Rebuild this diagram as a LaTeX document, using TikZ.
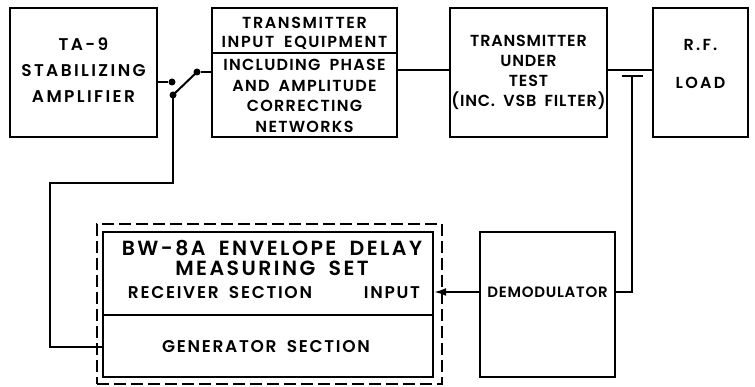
\documentclass[tikz,border=0pt]{standalone}
\usepackage{fontspec}
\setmainfont{Poppins}[BoldFont={* SemiBold}, WordSpace=1.8]
\usetikzlibrary{arrows.meta,positioning,calc}
\newcommand{\lettering}[3]{\fontsize{#1}{#2}\selectfont\bfseries\addfontfeatures{LetterSpace=#3}}

\begin{document}
\begin{tikzpicture}[x=1pt,y=-1pt,
  blk/.style={draw, line width=2.2pt, inner sep=0pt},
  dashbox/.style={draw, line width=2.2pt, dash pattern=on 12pt off 5pt, inner sep=0pt},
  lbl/.style={align=center, inner sep=0pt, font=\lettering{17}{20}{10}},
  wire/.style={line width=2pt},
  contact/.style={circle, fill, inner sep=0pt, minimum size=7pt}]

\useasboundingbox (0,0) rectangle (755,387);

% ================= TOP ROW =================
\node[blk, minimum width=147, minimum height=129] (ta9) at (83.5,72.5) {};
\node[lbl, font=\lettering{17}{26}{14}] (ta9txt) at (83.5,70) {TA-9\\STABILIZING\\AMPLIFIER};

\node[blk, minimum width=185, minimum height=129] (tie) at (304.5,72.5) {};
\node[lbl, font=\lettering{16}{19}{10}] (tietop) at (304.5,33.5) {TRANSMITTER\\INPUT EQUIPMENT};
\node[lbl, font=\lettering{16}{20.5}{8}] (tiebot) at (304.5,96) {INCLUDING PHASE\\AND AMPLITUDE\\CORRECTING\\NETWORKS};
\draw[wire] (tie.west |- 0,53) -- (tie.east |- 0,53);

\node[blk, minimum width=157, minimum height=129] (tut) at (528.5,72.5) {};
\node[lbl, font=\lettering{16}{20}{5}] (tuttxt) at (528.5,72.5) {TRANSMITTER\\UNDER\\TEST\\(INC. VSB FILTER)};

\node[blk, minimum width=95, minimum height=129] (rfload) at (700.5,72.5) {};
\node[lbl, font=\lettering{16}{38}{14}] (rftxt) at (700.5,64) {R.F.\\LOAD};

% --- switch ---
\node[contact] (c1) at (172,82) {};
\node[contact] (c2) at (197,72) {};
\node[contact] (c3) at (173,95) {};
\draw[wire] (ta9.east |- c1) -- (c1);
\draw[wire] (c2) -- (c2 -| tie.west);
\draw[wire] (c3.center) -- (c2.center);

% --- links ---
\draw[wire] (tie.east |- 0,70) -- (tut.west |- 0,70);
\draw[wire] (tut.east |- 0,70) -- (rfload.west |- 0,70);
\coordinate (tap) at (632,76);
\draw[line width=2.6pt] ($(tap)+(-10,0)$) -- ($(tap)+(11,0)$);

% ================= BOTTOM ROW =================
\node[dashbox, minimum width=345, minimum height=160] (bw8aout) at (269.5,304) {};
\node[blk, minimum width=330, minimum height=145] (bw8a) at (268,304.5) {};
\draw[wire] (bw8a.west |- 0,315) -- (bw8a.east |- 0,315);
\node[lbl, font=\lettering{20.5}{20}{12}] (bw8atxt) at (272,258) {BW-8A ENVELOPE DELAY\\MEASURING SET};
\node[lbl] (rcvtxt) at (220,293) {RECEIVER SECTION};
\node[lbl] (inptxt) at (392,293) {INPUT};
\node[lbl] (gentxt) at (266,347) {GENERATOR SECTION};

\node[blk, minimum width=135, minimum height=145] (demod) at (547.5,304.5) {};
\node[lbl, font=\lettering{15}{16}{5}] (demodtxt) at (547.5,292) {DEMODULATOR};

% --- return paths ---
\coordinate (g1) at (50,183);
\draw[wire] (c3.center) |- (g1) |- (gentxt -| bw8a.west);
\draw[wire] (tap) |- (demodtxt -| demod.east);
\draw[wire, -{Latex[length=12pt,width=8pt]}] (demodtxt -| demod.west) -- (demodtxt -| bw8a.east);

\end{tikzpicture}
\end{document}
